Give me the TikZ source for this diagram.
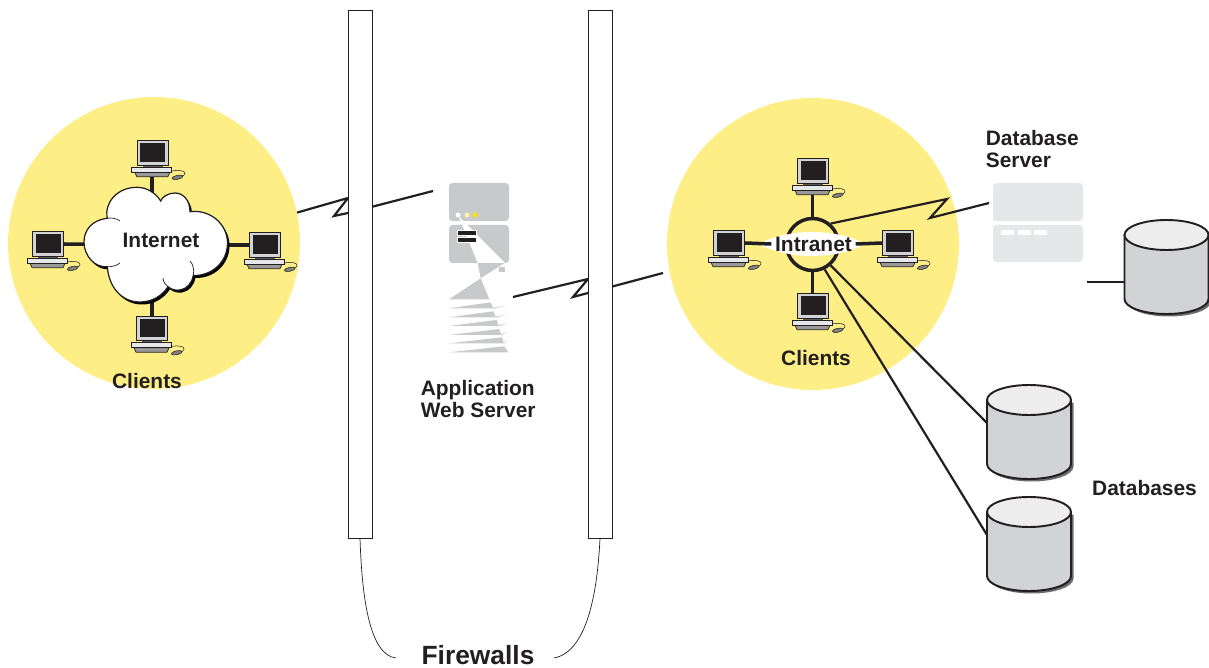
\documentclass[tikz,border=0pt]{standalone}
\usepackage{fontspec}
\setmainfont{Liberation Sans}
\definecolor{discyellow}{HTML}{FDEE86}
\definecolor{inkdark}{HTML}{231F20}
\definecolor{srvgrey}{HTML}{C8C9CB}
\definecolor{srvpale}{HTML}{E6E7E8}
\definecolor{cylgrey}{HTML}{D1D3D4}
\definecolor{cyltop}{HTML}{EDEDEE}
\newcommand{\cloudoutline}{(107.3,218.3) .. controls (92,220) and (84,230) .. (84,242)
  .. controls (84,256) and (95,268) .. (107.3,266.7)
  .. controls (109,288) and (122,302) .. (140,302)
  .. controls (152,302) and (162,296) .. (168,286.7)
  .. controls (172,290) and (176,290.5) .. (180,290)
  .. controls (187,289) and (192,283) .. (193.3,275.5)
  .. controls (212,276) and (227.5,262) .. (227.5,243)
  .. controls (227.5,224) and (210,209) .. (190,211.7)
  .. controls (190,200) and (183,193) .. (175,193)
  .. controls (168,193) and (162,197) .. (160.7,201)
  .. controls (155,192) and (146,187.3) .. (136.7,187.3)
  .. controls (118,187.3) and (104,202) .. (107.3,218.3) -- cycle}
\newcommand{\cylbody}{(-42,0) -- (-42,64) .. controls (-42,72.3) and (-23.2,79) .. (0,79)
  .. controls (23.2,79) and (42,72.3) .. (42,64) -- (42,0) -- cycle}
\tikzset{
  lbl/.style={font=\fontsize{11.9}{12.5}\selectfont\bfseries, text=inkdark, inner sep=2pt},
  disc/.style={circle, fill=discyellow, minimum size=5.84cm, inner sep=0},
  fwall/.style={draw=inkdark, fill=white, line width=.45pt, minimum width=.48cm, minimum height=10.56cm, inner sep=0},
  lanlink/.style={draw=inkdark, line width=2pt},
  wanlink/.style={draw=inkdark, line width=1.25pt},
  brace/.style={draw=inkdark, line width=.4pt},
  pcunit/.pic={
    \node[inner sep=0, minimum width=.62cm, minimum height=.49cm] (-mon) at (0,0) {};
    \node[inner sep=0, minimum width=.8cm, minimum height=.19cm] (-base) at (-1,19) {};
    \fill[gray!70!black] (-10,12) rectangle (10,14.5);
    \filldraw[draw=inkdark, fill=cylgrey, line width=.5pt] (-15.5,-12.2) rectangle (15.5,12.2);
    \fill[inkdark] (-12.5,-9.7) rectangle (12.5,8.7);
    \filldraw[draw=inkdark, fill=gray!80, line width=.4pt] (-18,19.3) -- (17,19.3) -- (15,23.7) -- (-16,23.7) -- cycle;
    \filldraw[draw=inkdark, fill=srvpale, line width=.5pt] (-21,14.3) rectangle (19,19.3);
    \draw[inkdark, line width=.3pt] (19,18) .. controls (27,16.5) and (33,18) .. (32,21) .. controls (31.5,22.5) and (30,23) .. (28,23.5);
    \filldraw[draw=inkdark, fill=gray, line width=.3pt, rotate around={12:(24.7,24.3)}] (24.7,24.3) ellipse (5.5 and 2);
  },
  dbcyl/.pic={
    \fill[gray!85!black, shift={(2.5,2.5)}] \cylbody;
    \filldraw[draw=inkdark, fill=cylgrey, line width=1.1pt] \cylbody;
    \filldraw[draw=inkdark, fill=cyltop, line width=1.1pt] (0,0) ellipse (42 and 15);
    \coordinate (-port) at (-42,23);
    \coordinate (-side) at (-42,47);
  },
}
\begin{document}
\begin{tikzpicture}[x=.02cm, y=-.02cm]
\useasboundingbox (0,0) rectangle (1209,668);

% yellow areas
\node[disc] (inetdisc) at (154,243) {};
\node[disc] (intradisc) at (813,244) {};

% clients round the internet
\pic (inA) at (152.8,153) {pcunit};
\pic (inB) at (48,244) {pcunit};
\pic (inC) at (265,245) {pcunit};
\pic (inD) at (152,328.5) {pcunit};
\coordinate (inetc) at (152,245);
\draw[lanlink] (inA-base.south -| inetc) -- (inetc);
\draw[lanlink] (inB-mon.east) -- (inetc);
\draw[lanlink] (inC-mon.west) -- (inetc);
\draw[lanlink] (inD-mon.north -| inetc) -- (inetc);

% cloud
\fill[black, shift={(2,2.5)}] \cloudoutline;
\filldraw[draw=inkdark, fill=white, line width=.7pt] \cloudoutline;
\draw[inkdark, line width=.4pt] (107.3,218.3) .. controls (112,217.5) and (117,218.5) .. (120,221);
\draw[inkdark, line width=.4pt] (107.3,266.7) .. controls (112,267) and (117,265.5) .. (120,263);
\draw[inkdark, line width=.4pt] (190,261) .. controls (193,264) and (194.5,270) .. (193.3,275.5);
\draw[inkdark, line width=.4pt] (163,278) .. controls (163.5,282) and (165,285) .. (168,286.7);
\node[lbl] (inet) at (161,240) {Internet};
\node[lbl] (clientsA) at (147,381) {Clients};

% wan lines, firewalls go on top of them
\coordinate (appin) at (433,191);
\coordinate (appout) at (513,297);
\coordinate (intrain) at (663,273);
\draw[wanlink] (inetdisc.12) -- (348,198) -- (334,216) -- (348,213) -- (appin);
\draw[wanlink] (appout) -- (588,279) -- (573,297) -- (588,293) -- (intrain);

% firewalls
\node[fwall] (fwA) at (360,274) {};
\node[fwall] (fwB) at (600,274) {};
\node[lbl, font=\fontsize{15}{16}\selectfont\bfseries] (fwlabel) at (478,655) {Firewalls};
\coordinate (fwtipA) at (396,658);
\coordinate (fwtipB) at (554,658);
\draw[brace] (fwA.south) .. controls (362,600) and (370,655) .. (fwtipA);
\draw[brace] (fwB.south) .. controls (597,600) and (585,652) .. (fwtipB);

% application server
\fill[srvgrey, rounded corners=2pt] (449,183) rectangle (509,221);
\fill[srvgrey, rounded corners=2pt] (449,225) rectangle (509,263);
\fill[srvgrey] (477.7,262.7) -- (505,262.7) -- (480.7,278.3) -- cycle;
\fill[srvgrey] (480.7,278.3) -- (449,299.3) -- (489.3,299.3) -- cycle;
\fill[srvgrey] (499,267.3) rectangle (505,272);
\foreach \yb/\xt/\xb in {308.3/490.7/493.3, 317.3/493.3/496, 326/496.7/498.7, 335/499.3/501.3, 343.3/502/504, 352.3/504.3/508.3}{
  \fill[srvgrey] (449,\yb) -- (\xt,\yb-6) -- (\xb,\yb) -- cycle;
  \fill[srvgrey!60] (\xb-1,\yb-1) -- (507,\yb-3) -- (\xb,\yb+1) -- cycle;
}
\fill[white] (458.5,216) -- (505,263) -- (477.7,263) -- cycle;
\filldraw[draw=white, fill=inkdark, line width=.5pt] (457.7,230.7) rectangle (476,235);
\filldraw[draw=white, fill=inkdark, line width=.5pt] (457.7,237.7) rectangle (476,242);
\fill[white] (458,215) circle (2.5);
\fill[discyellow!70!white] (467,215) circle (2.5);
\fill[yellow!85!orange] (475,215) circle (2.5);
\node[lbl, align=left, anchor=west] (applabel) at (417,399.5) {Application\\Web Server};

% intranet
\pic (trA) at (813,171) {pcunit};
\pic (trB) at (729,243) {pcunit};
\pic (trC) at (898,243) {pcunit};
\pic (trD) at (813,306) {pcunit};
\node[circle, draw=inkdark, line width=2pt, minimum size=1.04cm, inner sep=0] (ring) at (812.5,244.5) {};
\fill[white] (758,244) .. controls (790,228) and (836,228) .. (865,244) .. controls (836,260) and (790,260) .. cycle;
\node[lbl] (intra) at (813.5,244) {Intranet};
\draw[lanlink] (trA-base.south -| ring) -- (ring.north);
\draw[lanlink] (trB-mon.east) -- (intra.west);
\draw[lanlink] (trC-mon.west) -- (intra.east);
\draw[lanlink] (ring.south) -- (trD-mon.north -| ring);
\node[lbl] (clientsB) at (816,358) {Clients};

% database server
\fill[srvpale, rounded corners=2pt] (993,183) rectangle (1083,221);
\fill[srvpale, rounded corners=2pt] (993,225) rectangle (1083,262);
\foreach \xa in {1001,1018,1034}
  \fill[white] (\xa,230) rectangle (\xa+12.5,235);
\coordinate (dbsrvin) at (989,203);
\draw[wanlink] (ring.49) -- (947,199) -- (930,218) -- (dbsrvin);
\node[lbl, align=left, anchor=west] (dbsrvlabel) at (982,149) {Database\\Server};

% databases
\pic (dbA) at (1029,400) {dbcyl};
\pic (dbB) at (1029,512) {dbcyl};
\pic (dbC) at (1166.5,235) {dbcyl};
\coordinate (dbfree) at (1087,282);
\draw[wanlink] (dbfree) -- (dbC-side);
\draw[wanlink] (ring.-49) -- (dbA-port);
\draw[wanlink] (ring.-64) -- (dbB-port);
\node[lbl] (dblabel) at (1144.5,488) {Databases};
\end{tikzpicture}
\end{document}
